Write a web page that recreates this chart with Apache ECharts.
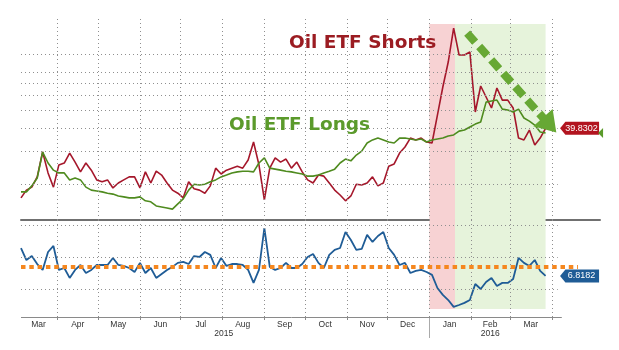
<!DOCTYPE html>
<html><head><meta charset="utf-8">
<script src="https://cdn.jsdelivr.net/npm/echarts@6/dist/echarts.min.js"></script>
<style>html,body{margin:0;padding:0;background:#fff}#c{width:619px;height:350px}</style>
</head><body><div id="c"></div>
<script>
const dates = [
'2015-03-05','2015-03-09','2015-03-13','2015-03-17','2015-03-21','2015-03-25','2015-03-29',
'2015-04-02','2015-04-06','2015-04-10','2015-04-14','2015-04-18','2015-04-22','2015-04-26','2015-04-30',
'2015-05-04','2015-05-08','2015-05-12','2015-05-16','2015-05-20','2015-05-24','2015-05-28',
'2015-06-01','2015-06-05','2015-06-09','2015-06-13','2015-06-17','2015-06-21','2015-06-25','2015-06-29',
'2015-07-03','2015-07-07','2015-07-11','2015-07-15','2015-07-19','2015-07-23','2015-07-27','2015-07-31',
'2015-08-04','2015-08-08','2015-08-12','2015-08-16','2015-08-20','2015-08-24','2015-08-28',
'2015-09-01','2015-09-05','2015-09-09','2015-09-13','2015-09-17','2015-09-21','2015-09-25','2015-09-29',
'2015-10-03','2015-10-07','2015-10-11','2015-10-15','2015-10-19','2015-10-23','2015-10-27','2015-10-31',
'2015-11-04','2015-11-08','2015-11-12','2015-11-16','2015-11-20','2015-11-24','2015-11-28',
'2015-12-02','2015-12-06','2015-12-10','2015-12-14','2015-12-18','2015-12-22','2015-12-26','2015-12-30',
'2016-01-03','2016-01-07','2016-01-11','2016-01-15','2016-01-19','2016-01-23','2016-01-27','2016-01-31',
'2016-02-04','2016-02-08','2016-02-12','2016-02-16','2016-02-20','2016-02-24','2016-02-28',
'2016-03-03','2016-03-07','2016-03-11','2016-03-15','2016-03-19','2016-03-23','2016-03-27'];

const shorts = [16.8,18.5,19.2,21.8,29.7,22.9,19.2,
25.3,25.9,29.3,26.2,23.2,25.9,23.7,21.0,
20.5,21.0,19.0,20.2,21.0,21.8,21.8,
19.0,23.2,20.2,23.4,22.3,20.2,18.5,17.8,
16.8,20.5,18.8,18.5,17.8,19.5,24.3,22.6,
23.7,24.3,24.9,24.3,26.9,33.6,25.3,
16.4,24.3,27.6,26.2,27.2,24.3,26.2,23.2,
21.0,20.2,22.3,22.0,20.2,18.5,17.4,16.2,
17.2,19.9,19.7,20.2,21.8,19.5,20.2,
24.9,25.6,29.3,31.6,35.3,34.5,35.3,33.6,
33.2,47.0,66.6,90.8,138.5,99.1,99.1,102.8,
48.8,67.4,58.8,51.3,65.8,56.6,56.6,
51.3,35.3,34.5,39.0,32.4,35.3,39.8302];

const longs = [18.1,18.1,19.5,21.5,29.7,25.9,23.7,
22.9,22.9,21.0,21.5,21.0,19.2,18.5,18.3,
18.1,17.8,17.6,17.2,17.0,16.8,16.8,
17.0,16.2,16.0,15.2,15.0,14.8,14.6,15.6,
16.6,18.5,19.9,19.7,19.9,20.5,21.0,21.8,
22.3,22.9,23.2,23.4,23.4,23.2,25.9,
27.6,24.3,24.0,23.7,23.4,23.2,22.9,22.6,
22.0,22.0,22.3,22.9,23.4,24.0,25.9,27.2,
26.6,28.6,30.0,33.2,34.5,35.3,34.5,
33.6,33.2,35.3,35.3,34.9,34.5,34.9,33.6,
34.5,34.9,35.3,36.2,36.7,38.5,39.0,40.5,
42.0,43.1,55.2,55.9,56.6,50.6,50.0,
48.8,50.6,45.3,43.6,41.5,38.1,37.6];

const ratio = [8.56,7.81,8.06,7.56,7.19,8.31,8.69,
7.19,7.31,6.69,7.19,7.50,7.00,7.19,7.50,
7.50,7.50,7.94,7.50,7.44,7.31,7.06,
7.63,7.00,7.31,6.69,6.94,7.19,7.38,7.63,
7.69,7.56,8.06,8.00,8.31,8.13,7.31,7.94,
7.44,7.56,7.56,7.50,7.19,6.38,7.19,
9.81,7.38,7.19,7.31,7.63,7.31,7.31,7.56,
8.00,8.19,7.63,7.31,8.13,8.44,8.56,9.56,
9.06,8.44,8.50,9.38,8.94,9.31,9.56,
8.56,8.13,7.50,7.63,7.00,7.13,7.19,7.06,
6.88,6.06,5.63,5.31,4.88,5.00,5.13,5.31,
6.31,6.00,6.44,6.69,6.19,6.38,6.38,
6.63,7.94,7.63,7.44,7.81,7.13,6.8182];

const ratioAvg = 7.38;
const monthStarts = ['2015-04-01','2015-05-01','2015-06-01','2015-07-01','2015-08-01','2015-09-01','2015-10-01','2015-11-01','2015-12-01','2016-01-01','2016-02-01','2016-03-01','2016-04-01'];
const monthLabelDates = ['2015-03-18','2015-04-16','2015-05-16','2015-06-16','2015-07-16','2015-08-16','2015-09-16','2015-10-16','2015-11-16','2015-12-16','2016-01-16','2016-02-15','2016-03-16'];
const monthNames = ['Jan','Feb','Mar','Apr','May','Jun','Jul','Aug','Sep','Oct','Nov','Dec'];
const yearLabelDates = ['2015-08-02','2016-02-15'];
const yearDivider = '2016-01-01';
const topGridValues = [20,30,40,50,60,70,80,100];
const bottomGridValues = [6,8,10];
const pinkRange = ['2016-01-01','2016-01-20'];
const greenRange = ['2016-01-20','2016-03-27'];
const arrowFrom = ['2016-01-29', 130];
const arrowTo = ['2016-03-30', 41.5];

function ts(s){const p=s.split('-');return new Date(+p[0],+p[1]-1,+p[2]).getTime();}
const X_MIN = ts('2015-03-05'), X_MAX = ts('2016-05-06') + 6*3600e3;
const GRID_END = ts('2016-04-05');
const AXIS_END = ts('2016-04-08');
const ORANGE_END = ts('2016-04-20');
const TOP_MIN = 12.76, TOP_MAX = 156.9, SHADE_TOP = 145.6, BOT_MIN = 4.25, BOT_MAX = 10.31, SHADE_BOT = 4.75;

const pts = arr => dates.map((d,i)=>[ts(d), arr[i]]);
const last = arr => [ts(dates[dates.length-1]), arr[arr.length-1]];
const gridStyle = {color:'#8f8f8f', width:1, type:[1,3]};
const tagPath = 'path://M0,6L6,0L44,0L44,12L6,12Z';
function tag(arr, color, off){
  return {silent:true, symbol:tagPath, symbolSize:[39,13], symbolKeepAspect:false, symbolOffset:[off,0],
    itemStyle:{color:color},
    label:{show:true, position:'inside', offset:[2,0], color:'#fff', fontSize:9, fontFamily:'Liberation Sans',
      formatter:p=>Number(p.value).toFixed(4)},
    data:[{coord:last(arr), value:arr[arr.length-1]}]};
}
const baseX = {type:'value', min:X_MIN, max:X_MAX, splitLine:{show:false}};

const chart = echarts.init(document.getElementById('c'), null, {renderer:'canvas'});
chart.setOption({
  animation:false,
  backgroundColor:'#fff',
  title:[
    {text:'Oil ETF Shorts', left:289, top:34, padding:0, textStyle:{color:'#9b1c22', fontSize:18.5, fontWeight:'bold', fontFamily:'DejaVu Sans'}},
    {text:'Oil ETF Longs', left:229, top:116, padding:0, textStyle:{color:'#5b9a2b', fontSize:18.5, fontWeight:'bold', fontFamily:'DejaVu Sans'}}
  ],
  grid:[
    {left:21, right:19, top:18, height:202},
    {left:21, right:19, top:220, height:97}
  ],
  xAxis:[
    Object.assign({}, baseX, {gridIndex:0, axisLine:{show:true, onZero:false, lineStyle:{color:'#707070', width:2}},
      axisTick:{show:false}, axisLabel:{show:false}}),
    Object.assign({}, baseX, {gridIndex:1, axisLine:{show:false, onZero:false},
      axisTick:{show:true, length:3, lineStyle:{color:'#8a8a8a'}, customValues:monthStarts.map(ts)},
      axisLabel:{show:true, customValues:monthLabelDates.map(ts), margin:3, color:'#333', fontSize:8.5, fontFamily:'Liberation Sans',
        formatter:v=>monthNames[new Date(v).getMonth()]}}),
    Object.assign({}, baseX, {gridIndex:1, position:'bottom', offset:0, axisLine:{show:false, onZero:false},
      axisTick:{show:true, length:21, lineStyle:{color:'#aaaaaa'}, customValues:[ts(yearDivider)]},
      axisLabel:{show:true, customValues:yearLabelDates.map(ts), margin:12, color:'#333', fontSize:8.5, fontFamily:'Liberation Sans',
        formatter:v=>String(new Date(v).getFullYear())}})
  ],
  yAxis:[
    {type:'log', logBase:10, gridIndex:0, min:TOP_MIN, max:TOP_MAX, show:false},
    {type:'value', gridIndex:1, min:BOT_MIN, max:BOT_MAX, show:false}
  ],
  series:[
    {type:'line', xAxisIndex:0, yAxisIndex:0, data:[], z:0, silent:true,
      markArea:{silent:true, data:[
        [{xAxis:ts(pinkRange[0]), yAxis:TOP_MIN, itemStyle:{color:'#f7d2d3'}},{xAxis:ts(pinkRange[1]), yAxis:SHADE_TOP}],
        [{xAxis:ts(greenRange[0]), yAxis:TOP_MIN, itemStyle:{color:'#e6f3db'}},{xAxis:ts(greenRange[1]), yAxis:SHADE_TOP}]
      ]}},
    {type:'line', xAxisIndex:1, yAxisIndex:1, data:[], z:0, silent:true,
      markArea:{silent:true, data:[
        [{xAxis:ts(pinkRange[0]), yAxis:SHADE_BOT, itemStyle:{color:'#f7d2d3'}},{xAxis:ts(pinkRange[1]), yAxis:BOT_MAX}],
        [{xAxis:ts(greenRange[0]), yAxis:SHADE_BOT, itemStyle:{color:'#e6f3db'}},{xAxis:ts(greenRange[1]), yAxis:BOT_MAX}]
      ]}},
    {type:'line', xAxisIndex:0, yAxisIndex:0, data:[], z:1, silent:true,
      markLine:{silent:true, symbol:'none', label:{show:false}, lineStyle:gridStyle, data:[
        ...monthStarts.map(d=>({xAxis:ts(d)})),
        ...topGridValues.map(v=>[{coord:[X_MIN,v]},{coord:[GRID_END,v]}])
      ]}},
    {type:'line', xAxisIndex:1, yAxisIndex:1, data:[], z:1, silent:true,
      markLine:{silent:true, symbol:'none', label:{show:false}, lineStyle:gridStyle, data:[
        ...monthStarts.map(d=>({xAxis:ts(d)})),
        ...bottomGridValues.map(v=>[{coord:[X_MIN,v]},{coord:[GRID_END,v]}]),
        [{coord:[X_MIN,BOT_MIN], lineStyle:{color:'#8a8a8a', width:1, type:'solid'}},{coord:[AXIS_END,BOT_MIN]}]
      ]}},
    {name:'Oil ETF Shorts', type:'line', xAxisIndex:0, yAxisIndex:0, data:pts(shorts), showSymbol:false, z:3,
      lineStyle:{color:'#a5172b', width:1.6}, itemStyle:{color:'#a5172b'}, markPoint:tag(shorts,'#b2141f',34)},
    {name:'Oil ETF Longs', type:'line', xAxisIndex:0, yAxisIndex:0, data:pts(longs), showSymbol:false, z:4,
      lineStyle:{color:'#4f8b1f', width:1.6}, itemStyle:{color:'#4f8b1f'},
      markPoint:{silent:true, symbol:'path://M0,5L5,0L5,10Z', symbolSize:[5,10], symbolKeepAspect:false, symbolOffset:[55,0],
        itemStyle:{color:'#5a9a2a'}, label:{show:false}, data:[{coord:last(longs), value:longs[longs.length-1]}]}},
    {name:'Ratio', type:'line', xAxisIndex:1, yAxisIndex:1, data:pts(ratio), showSymbol:false, z:3,
      lineStyle:{color:'#1f5c96', width:1.8}, itemStyle:{color:'#1f5c96'}, markPoint:tag(ratio,'#1f5c96',34)},
    {name:'Average', type:'line', xAxisIndex:1, yAxisIndex:1, data:[[X_MIN,ratioAvg],[ORANGE_END,ratioAvg]], showSymbol:false, z:5,
      lineStyle:{color:'#f5871f', width:4, type:[4.5,3.8]}},
    {type:'line', xAxisIndex:0, yAxisIndex:0, data:[], z:6, silent:true,
      markLine:{silent:true, symbol:['none','triangle'], symbolSize:[26,20], label:{show:false},
        itemStyle:{color:'#67a834'},
        lineStyle:{color:'#67a834', width:8, type:[12,6], opacity:1},
        data:[[{coord:[ts(arrowFrom[0]),arrowFrom[1]]},{coord:[ts(arrowTo[0]),arrowTo[1]]}]]}}
  ]
});
</script></body></html>
